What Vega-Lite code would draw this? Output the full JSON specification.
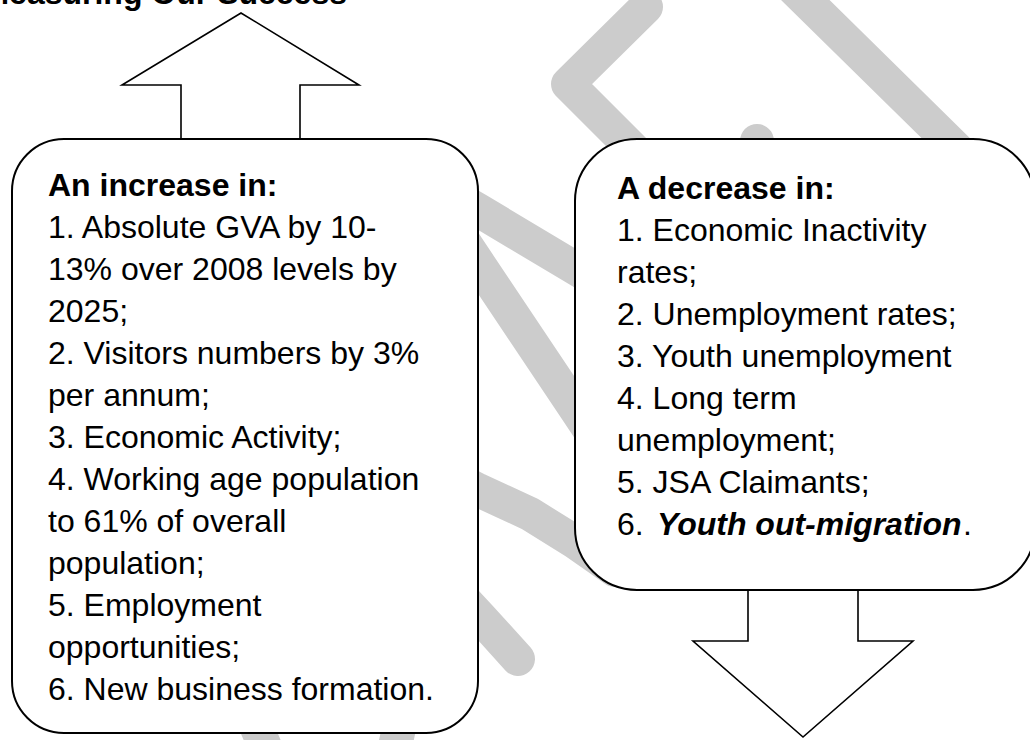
{
  "$schema": "https://vega.github.io/schema/vega-lite/v6.json",
  "width": 1030,
  "height": 740,
  "autosize": {"type": "none"},
  "padding": 0,
  "background": "white",
  "config": {"view": {"stroke": null}},
  "datasets": {
    "strokes": [
      {"s": "w1", "i": 0, "x": 646, "y": 7}, {"s": "w1", "i": 1, "x": 568, "y": 84}, {"s": "w1", "i": 2, "x": 660, "y": 176},
      {"s": "w2", "i": 0, "x": 788, "y": -17}, {"s": "w2", "i": 1, "x": 966, "y": 158},
      {"s": "w3", "i": 0, "x": 757, "y": 141}, {"s": "w3", "i": 1, "x": 745, "y": 200},
      {"s": "wA", "i": 0, "x": 440, "y": 188}, {"s": "wA", "i": 1, "x": 478, "y": 210}, {"s": "wA", "i": 2, "x": 575, "y": 268}, {"s": "wA", "i": 3, "x": 625, "y": 298},
      {"s": "wB", "i": 0, "x": 440, "y": 206}, {"s": "wB", "i": 1, "x": 478, "y": 263}, {"s": "wB", "i": 2, "x": 575, "y": 408}, {"s": "wB", "i": 3, "x": 605, "y": 453},
      {"s": "wC", "i": 0, "x": 440, "y": 470}, {"s": "wC", "i": 1, "x": 478, "y": 490}, {"s": "wC", "i": 2, "x": 530, "y": 514}, {"s": "wC", "i": 3, "x": 575, "y": 542}, {"s": "wC", "i": 4, "x": 615, "y": 570},
      {"s": "wD", "i": 0, "x": 440, "y": 574}, {"s": "wD", "i": 1, "x": 480, "y": 617}, {"s": "wD", "i": 2, "x": 518, "y": 659},
      {"s": "wS1", "i": 0, "x": 245, "y": 700}, {"s": "wS1", "i": 1, "x": 275, "y": 770},
      {"s": "wS2", "i": 0, "x": 405, "y": 700}, {"s": "wS2", "i": 1, "x": 390, "y": 770}
    ],
    "boxes": [
      {"box": "left", "x": 12, "x2": 478, "y": 139, "y2": 733},
      {"box": "right", "x": 575, "x2": 1035, "y": 139, "y2": 590}
    ],
    "arrows": [
      {"a": "up", "i": 0, "x": 181, "y": 139}, {"a": "up", "i": 1, "x": 181, "y": 85}, {"a": "up", "i": 2, "x": 122, "y": 85}, {"a": "up", "i": 3, "x": 241, "y": 13}, {"a": "up", "i": 4, "x": 359, "y": 85}, {"a": "up", "i": 5, "x": 300, "y": 85}, {"a": "up", "i": 6, "x": 300, "y": 139},
      {"a": "down", "i": 0, "x": 748, "y": 590}, {"a": "down", "i": 1, "x": 748, "y": 641}, {"a": "down", "i": 2, "x": 693, "y": 641}, {"a": "down", "i": 3, "x": 803, "y": 737}, {"a": "down", "i": 4, "x": 913, "y": 641}, {"a": "down", "i": 5, "x": 858, "y": 641}, {"a": "down", "i": 6, "x": 858, "y": 590}
    ],
    "texts": [
      {"kind": "title", "x": 347, "y": 4, "label": "Measuring Our Success"},
      {"kind": "bold", "x": 48, "y": 196, "label": "An increase in:"},
      {"kind": "normal", "x": 48, "y": 238, "label": "1. Absolute GVA by 10-"},
      {"kind": "normal", "x": 48, "y": 280, "label": "13% over 2008 levels by"},
      {"kind": "normal", "x": 48, "y": 322, "label": "2025;"},
      {"kind": "normal", "x": 48, "y": 364, "label": "2. Visitors numbers by 3%"},
      {"kind": "normal", "x": 48, "y": 406, "label": "per annum;"},
      {"kind": "normal", "x": 48, "y": 448, "label": "3. Economic Activity;"},
      {"kind": "normal", "x": 48, "y": 490, "label": "4. Working age population"},
      {"kind": "normal", "x": 48, "y": 532, "label": "to 61% of overall"},
      {"kind": "normal", "x": 48, "y": 574, "label": "population;"},
      {"kind": "normal", "x": 48, "y": 616, "label": "5. Employment"},
      {"kind": "normal", "x": 48, "y": 658, "label": "opportunities;"},
      {"kind": "normal", "x": 48, "y": 700, "label": "6. New business formation."},
      {"kind": "bold", "x": 617, "y": 199, "label": "A decrease in:"},
      {"kind": "normal", "x": 617, "y": 241, "label": "1. Economic Inactivity"},
      {"kind": "normal", "x": 617, "y": 283, "label": "rates;"},
      {"kind": "normal", "x": 617, "y": 325, "label": "2. Unemployment rates;"},
      {"kind": "normal", "x": 617, "y": 367, "label": "3. Youth unemployment"},
      {"kind": "normal", "x": 617, "y": 409, "label": "4. Long term"},
      {"kind": "normal", "x": 617, "y": 451, "label": "unemployment;"},
      {"kind": "normal", "x": 617, "y": 493, "label": "5. JSA Claimants;"},
      {"kind": "normal", "x": 617, "y": 535, "label": "6."},
      {"kind": "bolditalic", "x": 657, "y": 535, "label": "Youth out-migration"},
      {"kind": "normal", "x": 963, "y": 535, "label": "."}
    ]
  },
  "encoding": {
    "x": {"field": "x", "type": "quantitative", "axis": null, "scale": {"domain": [0, 1030], "nice": false, "zero": false}},
    "y": {"field": "y", "type": "quantitative", "axis": null, "scale": {"domain": [0, 740], "nice": false, "zero": false, "reverse": true}}
  },
  "layer": [
    {
      "data": {"name": "strokes"},
      "mark": {"type": "line", "color": "#cccccc", "strokeWidth": 34, "strokeCap": "round", "strokeJoin": "round"},
      "encoding": {"detail": {"field": "s"}, "order": {"field": "i", "type": "quantitative"}}
    },
    {
      "data": {"name": "boxes"},
      "transform": [{"filter": "datum.box === 'left'"}],
      "mark": {"type": "rect", "fill": "white", "stroke": "black", "strokeWidth": 2, "cornerRadius": 52},
      "encoding": {"x2": {"field": "x2"}, "y2": {"field": "y2"}}
    },
    {
      "data": {"name": "boxes"},
      "transform": [{"filter": "datum.box === 'right'"}],
      "mark": {"type": "rect", "fill": "white", "stroke": "black", "strokeWidth": 2, "cornerRadius": 62},
      "encoding": {"x2": {"field": "x2"}, "y2": {"field": "y2"}}
    },
    {
      "data": {"name": "arrows"},
      "mark": {"type": "line", "color": "black", "strokeWidth": 1.6, "strokeJoin": "miter"},
      "encoding": {"detail": {"field": "a"}, "order": {"field": "i", "type": "quantitative"}}
    },
    {
      "data": {"name": "texts"},
      "transform": [{"filter": "datum.kind === 'title'"}],
      "mark": {"type": "text", "font": "Liberation Sans", "fontSize": 32, "fontWeight": "bold", "align": "right", "baseline": "alphabetic", "color": "black"},
      "encoding": {"text": {"field": "label"}}
    },
    {
      "data": {"name": "texts"},
      "transform": [{"filter": "datum.kind === 'bold'"}],
      "mark": {"type": "text", "font": "Liberation Sans", "fontSize": 32, "fontWeight": "bold", "align": "left", "baseline": "alphabetic", "color": "black"},
      "encoding": {"text": {"field": "label"}}
    },
    {
      "data": {"name": "texts"},
      "transform": [{"filter": "datum.kind === 'normal'"}],
      "mark": {"type": "text", "font": "Liberation Sans", "fontSize": 32, "align": "left", "baseline": "alphabetic", "color": "black"},
      "encoding": {"text": {"field": "label"}}
    },
    {
      "data": {"name": "texts"},
      "transform": [{"filter": "datum.kind === 'bolditalic'"}],
      "mark": {"type": "text", "font": "Liberation Sans", "fontSize": 32, "fontWeight": "bold", "fontStyle": "italic", "align": "left", "baseline": "alphabetic", "color": "black"},
      "encoding": {"text": {"field": "label"}}
    }
  ]
}
